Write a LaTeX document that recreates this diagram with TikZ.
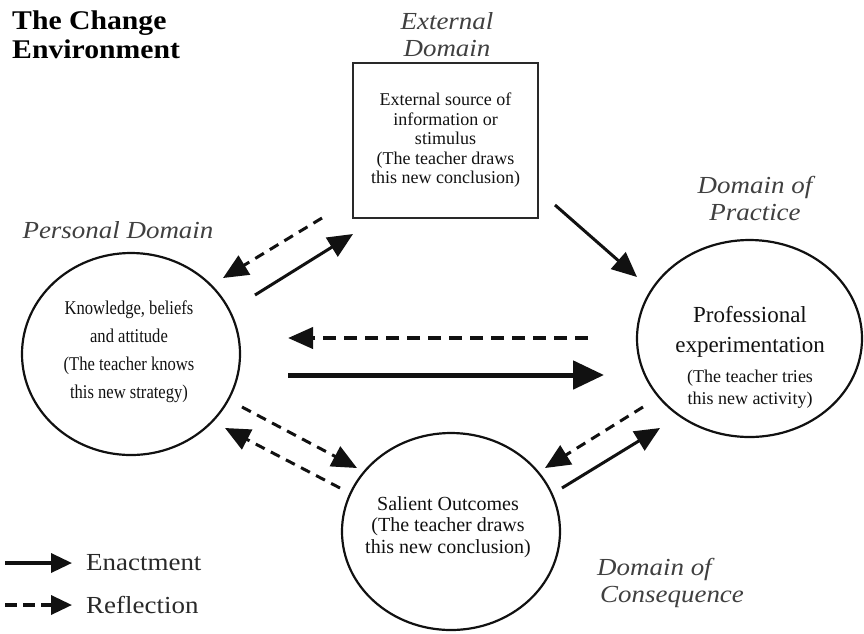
\documentclass[tikz,border=0pt]{standalone}
\usepackage{fontspec}
\setmainfont{Liberation Serif}
\newfontfamily\widefont[FakeStretch=1.1]{Liberation Serif}
\newfontfamily\narrowfont[FakeStretch=0.85]{Liberation Serif}
\usetikzlibrary{arrows.meta,shapes.geometric}
\definecolor{labgray}{HTML}{404040}
\definecolor{ink}{HTML}{111111}
\begin{document}
\begin{tikzpicture}[x=1pt,y=-1pt,
  ell/.style={draw=ink, line width=2.2pt, ellipse, inner sep=0pt},
  boxnode/.style={draw=ink!90, line width=2.5pt, minimum width=185pt, minimum height=155pt, inner sep=0pt, align=center, text=ink},
  domlabel/.style={font=\widefont\itshape\fontsize{24.5}{27}\selectfont, text=labgray, align=center, inner sep=0pt},
  bodytext/.style={align=center, text=ink, inner sep=0pt},
  enact/.style={draw=ink, line width=3pt, -{Triangle[length=25pt,width=22pt]}},
  reflect/.style={enact, dash pattern=on 10pt off 7pt},
  bigenact/.style={draw=ink, line width=5pt, -{Triangle[length=31pt,width=28pt]}},
  bigreflect/.style={draw=ink, line width=4pt, dash pattern=on 13pt off 8pt, -{Triangle[length=25pt,width=21pt]}}
]
\useasboundingbox (0,0) rectangle (864,633);

% title
\node[anchor=west, align=left, inner sep=0pt, font=\widefont\bfseries\fontsize{27}{29}\selectfont] (title) at (12,35) {The Change\\Environment};

% domain labels
\node[domlabel] (extlab) at (447,35) {External\\Domain};
\node[domlabel] (perslab) at (118,230) {Personal Domain};
\node[domlabel] (praclab) at (755,198) {Domain of\\Practice};
\node[domlabel, align=left, anchor=west] (conslab) at (597,583) {Domain of\\\hspace*{3pt}Consequence};

% external box
\node[boxnode, font=\fontsize{18}{19.5}\selectfont] (ext) at (445.5,140.5)
  {External source of\\information or\\stimulus\\(The teacher draws\\this new conclusion)};

% personal domain circle
\node[ell, minimum width=218pt, minimum height=202pt] (pers) at (131,354) {};
\node[bodytext, font=\narrowfont\fontsize{19.5}{28}\selectfont] (perstext) at (129,352)
  {Knowledge, beliefs\\and attitude\\(The teacher knows\\this new strategy)};

% practice circle
\node[ell, minimum width=225pt, minimum height=197pt] (prac) at (749.5,338.5) {};
\node[bodytext, font=\fontsize{23}{30}\selectfont] (practext1) at (750,332)
  {Professional\\experimentation};
\node[bodytext, font=\fontsize{18}{22}\selectfont] (practext2) at (750,389)
  {(The teacher tries\\this new activity)};

% consequence circle
\node[ell, minimum width=218pt, minimum height=197pt] (sal) at (451,531.5) {};
\node[bodytext, font=\fontsize{20}{21.5}\selectfont] (saltext) at (448,527)
  {Salient Outcomes\\(The teacher draws\\this new conclusion)};

% connector end points
\coordinate (r1s) at (322,218); \coordinate (r1e) at (223,278);
\coordinate (e1s) at (255,295); \coordinate (e1e) at (353,234);
\coordinate (e2s) at (555,205); \coordinate (e2e) at (637,277);
\coordinate (r2s) at (588,338); \coordinate (r2e) at (288,338);
\coordinate (e3s) at (288,375); \coordinate (e3e) at (604,375);
\coordinate (r3s) at (242,407); \coordinate (r3e) at (357,468);
\coordinate (r4s) at (340,488); \coordinate (r4e) at (225,428);
\coordinate (r5s) at (643,407); \coordinate (r5e) at (545,468);
\coordinate (e4s) at (562,488); \coordinate (e4e) at (660,428);

\draw[reflect] (r1s) -- (r1e);
\draw[enact] (e1s) -- (e1e);
\draw[enact] (e2s) -- (e2e);
\draw[bigreflect] (r2s) -- (r2e);
\draw[bigenact] (e3s) -- (e3e);
\draw[reflect] (r3s) -- (r3e);
\draw[reflect] (r4s) -- (r4e);
\draw[reflect] (r5s) -- (r5e);
\draw[enact] (e4s) -- (e4e);

% legend
\coordinate (l1s) at (5,563); \coordinate (l1e) at (72,563);
\coordinate (l2s) at (5,605); \coordinate (l2e) at (72,605);
\draw[draw=ink, line width=3.5pt, -{Triangle[length=21pt,width=19pt]}] (l1s) -- (l1e);
\draw[draw=ink, line width=3.5pt, dash pattern=on 12pt off 6pt, -{Triangle[length=21pt,width=19pt]}] (l2s) -- (l2e);
\node[anchor=west, inner sep=0pt, text=ink!90, font=\widefont\fontsize{24.5}{27}\selectfont] (enlab) at (86,563) {Enactment};
\node[anchor=west, inner sep=0pt, text=ink!90, font=\widefont\fontsize{24.5}{27}\selectfont] (reflab) at (86,605) {Reflection};
\end{tikzpicture}
\end{document}
